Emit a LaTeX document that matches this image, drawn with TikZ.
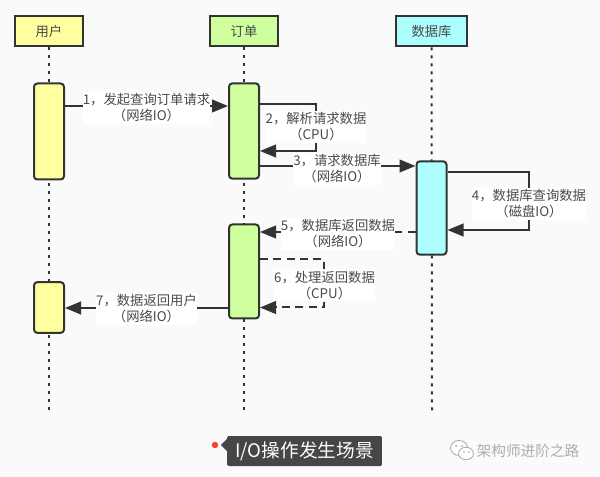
\documentclass[tikz,border=0pt]{standalone}
\usepackage{fontspec}
\setmainfont{Noto Sans CJK SC}
\usepackage{xcolor}
\usetikzlibrary{arrows.meta}
\definecolor{ink}{HTML}{333333}
\definecolor{txt}{HTML}{4A4A4A}
\definecolor{user_col}{HTML}{FFFF9F}
\definecolor{order_col}{HTML}{CEFF9C}
\definecolor{db_col}{HTML}{ADFFFF}
\definecolor{dot_col}{HTML}{F0432B}
\tikzset{
    head_box/.style = {rectangle, draw=ink, line width=1.5pt, text=txt, minimum width=51pt, minimum height=22.5pt, inner sep=0pt, font=\fontsize{10}{12}\selectfont},
    act_box/.style = {rectangle, rounded corners=2.5pt, draw=ink, line width=1.5pt, minimum width=22.5pt, inner sep=0pt},
    life_line/.style = {draw=ink, line width=1.5pt, dash pattern=on 2.2pt off 3.8pt},
    call_line/.style = {draw=ink, line width=1.5pt, ->},
    back_line/.style = {call_line, dash pattern=on 6pt off 4pt},
    step_label/.style = {fill=white, text=txt, align=center, inner xsep=0pt, inner ysep=1pt, minimum height=24pt, font=\fontsize{10}{12}\selectfont}
}
\begin{document}
\begin{tikzpicture}[x=0.75pt,y=-0.75pt,>={Triangle[length=12pt,width=9.5pt]}]
    \fill[fill=black!2] (0,0) rectangle (600,477);
    \useasboundingbox (0,0) rectangle (600,477);
    % column heads
    \node [head_box, fill=user_col] (user_head) at (49,31.5) {用户};
    \node [head_box, fill=order_col] (order_head) at (244,31.5) {订单};
    \node [head_box, fill=db_col, minimum width=53pt] (db_head) at (431.5,31.5) {数据库};
    \coordinate (user_end) at (49,411);
    \coordinate (order_end) at (244,411);
    \coordinate (db_end) at (432,411);
    \draw [life_line] (user_head) -- (user_end);
    \draw [life_line] (order_head) -- (order_end);
    \draw [life_line] (db_head.south) -- (db_end);
    % activations
    \node [act_box, fill=user_col, minimum height=72pt] (user_a) at (49,131.5) {};
    \node [act_box, fill=user_col, minimum height=38pt] (user_b) at (49,307.5) {};
    \node [act_box, fill=order_col, minimum height=71.5pt] (order_a) at (244,131) {};
    \node [act_box, fill=order_col, minimum height=70.5pt] (order_b) at (244,271.5) {};
    \node [act_box, fill=db_col, minimum height=70pt] (db_a) at (431.5,208) {};
    % levels of the messages
    \coordinate (m1) at (0,106);
    \coordinate (m2a) at (316,104);
    \coordinate (m2b) at (316,151);
    \coordinate (m3) at (0,166);
    \coordinate (m4a) at (529,172);
    \coordinate (m4b) at (529,230);
    \coordinate (m5) at (0,232);
    \coordinate (m6a) at (324,259);
    \coordinate (m6b) at (324,307.5);
    \coordinate (m7) at (0,308);
    % messages
    \draw [call_line] (user_a.east |- m1) -- (order_a.west |- m1);
    \draw [call_line] (order_a.east |- m2a) -- (m2a) -- (m2b) -- (order_a.east |- m2b);
    \draw [call_line] (order_a.east |- m3) -- (db_a.west |- m3);
    \draw [call_line] (db_a.east |- m4a) -- (m4a) -- (m4b) -- (db_a.east |- m4b);
    \draw [back_line] (db_a.west |- m5) -- (order_b.east |- m5);
    \draw [back_line] (order_b.east |- m6a) -- (m6a) -- (m6b) -- (order_b.east |- m6b);
    \draw [call_line] (order_b.west |- m7) -- (user_b.east |- m7);
    % labels
    \node [step_label] (l1) at (146.5,108) {1，发起查询订单请求\\（网络IO）};
    \node [step_label] (l2) at (316,127) {2，解析请求数据\\（CPU）};
    \node [step_label] (l3) at (337,169) {3，请求数据库\\（网络IO）};
    \node [step_label] (l4) at (529,204) {4，数据库查询数据\\（磁盘IO）};
    \node [step_label] (l5) at (338,234) {5，数据库返回数据\\（网络IO）};
    \node [step_label] (l6) at (324.5,285.5) {6，处理返回数据\\（CPU）};
    \node [step_label] (l7) at (146.5,309) {7，数据返回用户\\（网络IO）};
    % caption
    \fill [fill=dot_col] (215,445) circle (3.2);
    \node [fill=txt!95!black, text=white, rounded corners=1pt, minimum width=116pt, minimum height=22.5pt, inner sep=0pt, font=\fontsize{14}{16}\selectfont] (caption) at (304.5,451) {I/O操作发生场景};
    \coordinate (tip) at (221,445);
    \fill [fill=txt!95!black] (caption.west |- 0,439) -- (tip) -- (caption.west |- 0,451) -- cycle;
    % watermark
    \draw [draw=black!35, fill=white, line width=0.6pt] (459,448) ellipse (8.5 and 7.5);
    \draw [draw=black!35, fill=white, line width=0.6pt] (466,453.5) ellipse (7.5 and 6.2);
    \fill [fill=black!35] (456,446) circle (1) (462,446) circle (1) (464,452) circle (0.8) (469,452) circle (0.8);
    \node [text=black!32, inner sep=0pt, font=\fontsize{11}{13}\selectfont] (mark) at (528,451) {架构师进阶之路};
\end{tikzpicture}
\end{document}
